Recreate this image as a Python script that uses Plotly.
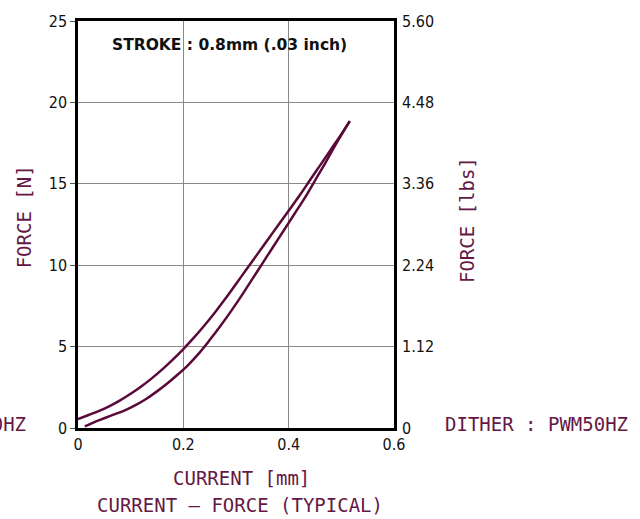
import plotly.graph_objects as go

# Current [mm] vs force [N], typical hysteresis loop (two branches)
upper_x = [0.0, 0.02, 0.04, 0.06, 0.08, 0.10, 0.12, 0.14, 0.16, 0.18, 0.20, 0.22, 0.24,
           0.26, 0.28, 0.30, 0.32, 0.34, 0.36, 0.38, 0.40, 0.42, 0.44, 0.46, 0.48, 0.50, 0.516]
upper_f = [0.55, 0.8, 1.05, 1.35, 1.7, 2.1, 2.55, 3.05, 3.6, 4.2, 4.85, 5.55, 6.3,
           7.1, 7.95, 8.85, 9.75, 10.65, 11.55, 12.45, 13.35, 14.25, 15.2, 16.15, 17.1, 18.05, 18.85]

lower_x = [0.013, 0.03, 0.05, 0.07, 0.09, 0.11, 0.13, 0.15, 0.17, 0.19, 0.21, 0.23, 0.25,
           0.27, 0.29, 0.31, 0.33, 0.35, 0.37, 0.39, 0.41, 0.43, 0.45, 0.47, 0.49, 0.516]
lower_f = [0.1, 0.35, 0.6, 0.85, 1.1, 1.42, 1.8, 2.25, 2.75, 3.3, 3.9, 4.6, 5.4,
           6.25, 7.15, 8.1, 9.1, 10.1, 11.1, 12.1, 13.1, 14.1, 15.2, 16.3, 17.45, 18.85]

x_ticks = [0, 0.2, 0.4, 0.6]
x_tick_text = ["0", "0.2", "0.4", "0.6"]
n_ticks = [0, 5, 10, 15, 20, 25]
lbs_ticks = [0, 1.12, 2.24, 3.36, 4.48, 5.60]
lbs_tick_text = ["0", "1.12", "2.24", "3.36", "4.48", "5.60"]

LINE = "#5a0a3a"
TEXT = "#651845"
NUM_FONT = dict(family="DejaVu Sans Condensed, Liberation Sans Narrow, sans-serif",
                size=16, color="#111111")
LBL_FONT = dict(family="DejaVu Sans Mono, monospace", size=19, color=TEXT)

fig = go.Figure()
for xs, fs in ((upper_x, upper_f), (lower_x, lower_f)):
    fig.add_trace(go.Scatter(
        x=xs, y=fs, mode="lines",
        line=dict(color=LINE, width=2.5, shape="spline", smoothing=1),
        showlegend=False, hoverinfo="skip",
    ))
# invisible trace to activate the secondary (lbs) axis
fig.add_trace(go.Scatter(x=[0], y=[0], yaxis="y2", mode="markers",
                         marker=dict(opacity=0), showlegend=False, hoverinfo="skip"))

fig.update_layout(
    width=640, height=519,
    margin=dict(l=78, r=246, t=13, b=91),
    paper_bgcolor="white", plot_bgcolor="white",
    xaxis=dict(
        range=[0, 0.6], tickvals=x_ticks, ticktext=x_tick_text,
        showgrid=True, gridcolor="#8a8a8a", gridwidth=1,
        showline=True, linecolor="black", linewidth=3, mirror=True,
        ticks="", tickfont=NUM_FONT, zeroline=False,
    ),
    yaxis=dict(
        range=[0, 25], tickvals=n_ticks,
        showgrid=True, gridcolor="#8a8a8a", gridwidth=1,
        showline=True, linecolor="black", linewidth=2.5, mirror=True,
        ticks="outside", ticklen=5, tickcolor="#555555",
        tickfont=NUM_FONT, zeroline=False,
    ),
    yaxis2=dict(
        range=[0, 5.6], tickvals=lbs_ticks, ticktext=lbs_tick_text,
        overlaying="y", side="right", showgrid=False, zeroline=False,
        ticks="", tickfont=NUM_FONT, ticklabelstandoff=7,
    ),
)

ann = [
    dict(text="<b>STROKE : 0.8mm (.03 inch)</b>", x=0.478, y=0.94,
         font=dict(family="DejaVu Sans, sans-serif", size=15.5, color="#111111")),
    dict(text="FORCE [N]", x=-0.171, y=0.52, textangle=-90, font=LBL_FONT),
    dict(text="FORCE [lbs]", x=1.231, y=0.511, textangle=-90, font=LBL_FONT),
    dict(text="CURRENT [mm]", x=0.516, y=-0.123, font=LBL_FONT),
    dict(text="CURRENT – FORCE (TYPICAL)", x=0.513, y=-0.188, font=LBL_FONT),
    dict(text="DITHER : PWM50HZ", x=1.155, y=0.0096, xanchor="left", font=LBL_FONT),
    dict(text="DITHER : PWM50HZ", x=-0.158, y=0.0096, xanchor="right", font=LBL_FONT),
]
for a in ann:
    a.setdefault("xanchor", "center")
    fig.add_annotation(xref="paper", yref="paper", yanchor="middle",
                       showarrow=False, **a)

fig.write_html("out.html")
